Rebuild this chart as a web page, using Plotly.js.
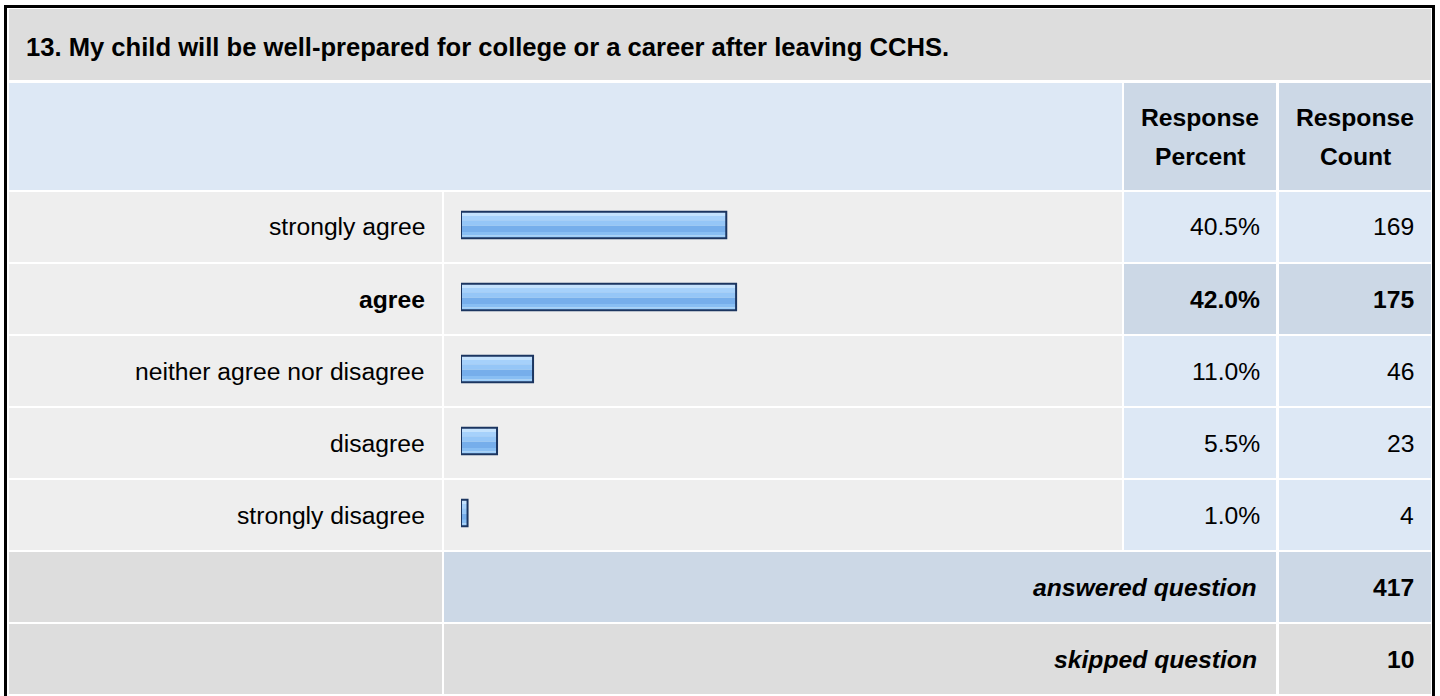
<!DOCTYPE html>
<html>
<head>
<meta charset="utf-8">
<script src="https://cdn.plot.ly/plotly-3.0.1.min.js"></script>
<style>
  html, body { margin: 0; padding: 0; background: #ffffff; overflow: hidden; }
  #chart { width: 1440px; height: 696px; }
</style>
</head>
<body>
<div id="chart"></div>
<script>
// ---------- data ----------
const questionTitle = '13. My child will be well-prepared for college or a career after leaving CCHS.';
const categories = ['strongly agree', 'agree', 'neither agree nor disagree', 'disagree', 'strongly disagree'];
const percents = [40.5, 42.0, 11.0, 5.5, 1.0];
const counts = [169, 175, 46, 23, 4];
const headerPercent = ['Response', 'Percent'];
const headerCount = ['Response', 'Count'];
const summaryLabels = ['answered question', 'skipped question'];
const summaryValues = [417, 10];

// ---------- layout helpers ----------
const W = 1440, H = 696;
const FONT = 'Liberation Sans, Arial, Helvetica, sans-serif';
const FS = 24.7;
const X = p => p / W;
const Y = p => 1 - p / H;

const C_TITLE = '#dddddd';
const C_LABEL = '#eeeeee';
const C_LIGHT = '#dde8f5';
const C_DARK = '#ccd8e6';

const shapes = [];
const annotations = [];

function rect(x0, y0, x1, y1, color) {
  shapes.push({
    type: 'rect', xref: 'paper', yref: 'paper', layer: 'below',
    x0: X(x0), x1: X(x1), y0: Y(y1), y1: Y(y0),
    fillcolor: color, line: { width: 0 }
  });
}
function text(x, y, str, anchor, size) {
  annotations.push({
    xref: 'paper', yref: 'paper', x: X(x), y: Y(y), text: str,
    showarrow: false, xanchor: anchor, yanchor: 'middle',
    borderpad: 0, borderwidth: 0,
    font: { family: FONT, size: size || FS, color: '#000000' }
  });
}

// columns
const c0 = [9, 442], c1 = [444, 1122], c2 = [1124, 1276], c3 = [1279, 1431];

// title row
rect(9, 9, 1431, 80, C_TITLE);
text(26, 47, '<b>' + questionTitle + '</b>', 'left', 25.6);

// header row
rect(c0[0], 83, c1[1], 190, C_LIGHT);
rect(c2[0], 83, c2[1], 190, C_DARK);
rect(c3[0], 83, c3[1], 190, C_DARK);
const hc2 = (c2[0] + c2[1]) / 2, hc3 = (c3[0] + c3[1]) / 2;
text(hc2, 118, '<b>' + headerPercent[0] + '</b>', 'center');
text(hc2, 156, '<b>' + headerPercent[1] + '</b>', 'center');
text(hc3, 118, '<b>' + headerCount[0] + '</b>', 'center');
text(hc3, 156, '<b>' + headerCount[1] + '</b>', 'center');

// answer rows
const maxCount = Math.max(...counts);
categories.forEach((cat, i) => {
  const top = 192 + i * 72, bot = top + 70, mid = (top + bot) / 2;
  const hi = counts[i] === maxCount;
  rect(c0[0], top, c0[1], bot, C_LABEL);
  rect(c1[0], top, c1[1], bot, C_LABEL);
  rect(c2[0], top, c2[1], bot, hi ? C_DARK : C_LIGHT);
  rect(c3[0], top, c3[1], bot, hi ? C_DARK : C_LIGHT);
  const b = s => hi ? '<b>' + s + '</b>' : s;
  text(425, mid, b(cat), 'right');
  text(1259.5, mid, b(percents[i].toFixed(1) + '%'), 'right');
  text(1413.5, mid, b(String(counts[i])), 'right');
});

// summary rows
summaryLabels.forEach((lab, j) => {
  const top = 552 + j * 72, bot = top + 70, mid = (top + bot) / 2;
  const col = j === 0 ? C_DARK : C_TITLE;
  rect(c0[0], top, c0[1], bot, C_TITLE);
  rect(c1[0], top, c2[1], bot, col);
  rect(c3[0], top, c3[1], bot, col);
  text(1257, mid, '<b><i>' + lab + '</i></b>', 'right');
  text(1413.5, mid, '<b>' + summaryValues[j] + '</b>', 'right');
});

// outer black frame
shapes.push({
  type: 'rect', xref: 'paper', yref: 'paper', layer: 'above',
  x0: X(5.5), x1: X(1433.5), y0: Y(710), y1: Y(6.5),
  fillcolor: 'rgba(0,0,0,0)', line: { color: '#000000', width: 3 }
});

// ---------- bars (striped glossy look) ----------
const BW = 0.37;
const stripes = [
  [0.00, 0.16, '#c4e2fd'],
  [0.16, 0.32, '#a6d1fb'],
  [0.32, 0.53, '#95c6f7'],
  [0.53, 0.76, '#76aeeb'],
  [0.76, 0.89, '#88bef3'],
  [0.89, 1.00, '#9ccdf9']
];
const traces = stripes.map(s => ({
  type: 'bar', orientation: 'h',
  x: percents, y: categories,
  width: (s[1] - s[0]) * BW,
  offset: -BW / 2 + s[0] * BW,
  marker: { color: s[2], line: { width: 0 } },
  hoverinfo: 'skip', showlegend: false
}));
traces.push({
  type: 'bar', orientation: 'h',
  x: percents, y: categories,
  width: BW, offset: -BW / 2,
  marker: { color: 'rgba(0,0,0,0)', line: { color: '#1b3560', width: 2 } },
  hoverinfo: 'skip', showlegend: false
});

const layout = {
  width: W, height: H,
  margin: { l: 0, r: 0, t: 0, b: 0, pad: 0 },
  paper_bgcolor: '#ffffff',
  plot_bgcolor: 'rgba(0,0,0,0)',
  barmode: 'overlay',
  showlegend: false,
  xaxis: { domain: [X(461), X(1116)], range: [0, 100], visible: false, fixedrange: true },
  yaxis: {
    domain: [Y(549), Y(189)], type: 'category', categoryorder: 'array',
    categoryarray: categories, autorange: 'reversed', visible: false, fixedrange: true
  },
  shapes: shapes,
  annotations: annotations
};

Plotly.newPlot('chart', traces, layout, { staticPlot: true, displayModeBar: false });
</script>
</body>
</html>
